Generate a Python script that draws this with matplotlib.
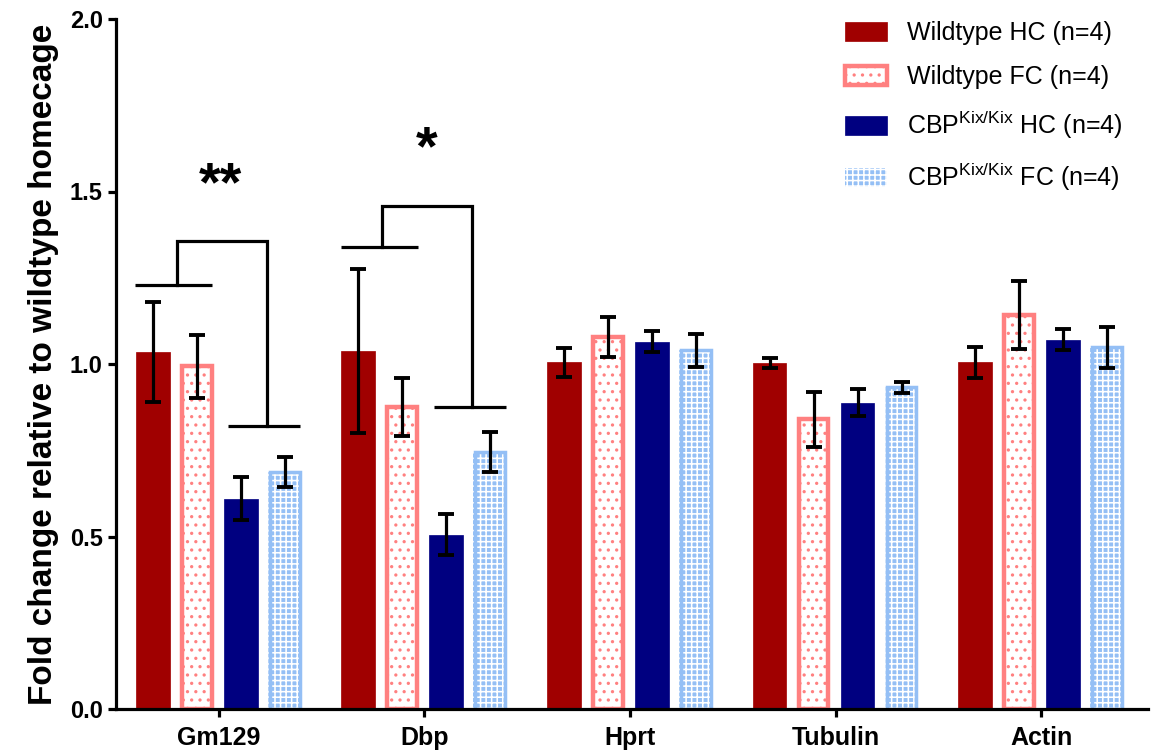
import numpy as np
import matplotlib
matplotlib.use("Agg")
import matplotlib.pyplot as plt

plt.rcParams['font.family'] = ['Liberation Sans', 'DejaVu Sans']
plt.rcParams['mathtext.fontset'] = 'custom'
plt.rcParams['mathtext.rm'] = 'Liberation Sans'
plt.rcParams['mathtext.default'] = 'regular'
plt.rcParams['hatch.linewidth'] = 1.15

genes = ["Gm129", "Dbp", "Hprt", "Tubulin", "Actin"]
series = ["Wildtype HC (n=4)", "Wildtype FC (n=4)",
          r"CBP$^{Kix/Kix}$ HC (n=4)", r"CBP$^{Kix/Kix}$ FC (n=4)"]
wt_hc = [1.035, 1.038, 1.005, 1.003, 1.005]
wt_hc_err = [0.144, 0.238, 0.042, 0.015, 0.045]
wt_fc = [0.993, 0.875, 1.078, 0.840, 1.142]
wt_fc_err = [0.092, 0.085, 0.057, 0.080, 0.098]
kix_hc = [0.610, 0.505, 1.065, 0.888, 1.070]
kix_hc_err = [0.063, 0.060, 0.030, 0.040, 0.030]
kix_fc = [0.686, 0.745, 1.040, 0.932, 1.048]
kix_fc_err = [0.043, 0.057, 0.048, 0.016, 0.060]

# significance annotations
sig_groups = [0, 1]
sig_left = [1.229, 1.340]
sig_right = [0.821, 0.876]
sig_top = [1.357, 1.459]
sig_label = ["**", "*"]
sig_label_y = [1.515, 1.62]

dark_red = "#A00000"
pink = "#FF8080"
navy = "#000080"
light_blue = "#94BFF5"

fig = plt.figure(figsize=(11.52, 7.54), dpi=100)
ax = fig.add_axes([116/1152, 45/754, (1148-116)/1152, (709-19)/754])

x = np.arange(len(genes))
step = 0.214
w = 0.165
offs = np.array([-1.5, -0.5, 0.5, 1.5]) * step

err_kw = dict(ecolor='black', elinewidth=2.3, capsize=6, capthick=2.8)

b0 = ax.bar(x + offs[0], wt_hc, w, color=dark_red, edgecolor=dark_red, linewidth=0.5,
            yerr=wt_hc_err, error_kw=err_kw, label=series[0], zorder=2)
b1 = ax.bar(x + offs[1], wt_fc, w - 0.02, facecolor='white', edgecolor=pink, linewidth=3.2,
            hatch='..', label=series[1], zorder=2)
ax.errorbar(x + offs[1], wt_fc, yerr=wt_fc_err, fmt='none', zorder=3, **err_kw)
b2 = ax.bar(x + offs[2], kix_hc, w, color=navy, edgecolor=navy, linewidth=0.5,
            yerr=kix_hc_err, error_kw=err_kw, label=series[2], zorder=2)
b3 = ax.bar(x + offs[3], kix_fc, w, facecolor=light_blue, edgecolor='white', linewidth=0,
            hatch='+++', label=series[3], zorder=2)
ax.bar(x + offs[3], kix_fc, w - 0.02, facecolor='none', edgecolor=light_blue, linewidth=2.5, zorder=2)
ax.errorbar(x + offs[3], kix_fc, yerr=kix_fc_err, fmt='none', zorder=3, **err_kw)

# significance brackets
lw_b = 2.3
for g, yl, yr, yt, lab, ly in zip(sig_groups, sig_left, sig_right, sig_top, sig_label, sig_label_y):
    lm = g + (offs[0] + offs[1]) / 2
    rm = g + (offs[2] + offs[3]) / 2
    ax.plot([g + offs[0] - 0.085, g + offs[1] + 0.075], [yl, yl], color='black', lw=lw_b,
            solid_capstyle='butt', zorder=4)
    ax.plot([g + offs[2] - 0.06, g + offs[3] + 0.075], [yr, yr], color='black', lw=lw_b,
            solid_capstyle='butt', zorder=4)
    ax.plot([lm + 0.01, lm + 0.01, rm + 0.02, rm + 0.02], [yl, yt, yt, yr], color='black', lw=lw_b,
            solid_joinstyle='miter', zorder=4)
    ax.text(g + 0.01, ly, lab, ha='center', va='center', fontsize=40, fontweight='bold')

ax.set_xlim(-0.5, 4.52)
ax.set_ylim(0, 2.0)
ax.set_yticks([0.0, 0.5, 1.0, 1.5, 2.0])
ax.set_yticklabels(["0.0", "0.5", "1.0", "1.5", "2.0"], fontsize=17, fontweight='bold')
ax.set_xticks(x)
ax.set_xticklabels(genes, fontsize=18, fontweight='bold')
ax.set_ylabel("Fold change relative to wildtype homecage", fontsize=24, fontweight='bold',
              labelpad=8)

for s in ['top', 'right']:
    ax.spines[s].set_visible(False)
for s in ['left', 'bottom']:
    ax.spines[s].set_linewidth(2.3)
ax.tick_params(axis='both', width=2.3, length=6, direction='out')
ax.tick_params(axis='x', pad=6)

handles = [b0, b1, b2, b3]
leg = fig.legend(handles, series, loc='upper left', bbox_to_anchor=(845/1152, 1 - 21/754),
                 frameon=False, fontsize=18, borderpad=0, borderaxespad=0,
                 handlelength=1.68, handleheight=0.8, handletextpad=0.8, labelspacing=0.8)

fig.savefig("out.png", dpi=100)
